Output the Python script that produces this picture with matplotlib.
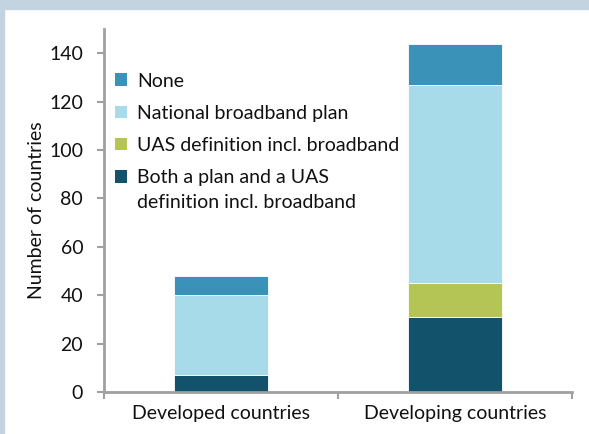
import matplotlib.pyplot as plt
import matplotlib.patches as mpatches

plt.rcParams['font.family'] = ['Lato', 'DejaVu Sans']

categories = ['Developed countries', 'Developing countries']
both = [7, 31]
uas_def = [0, 14]
national_plan = [33, 82]
none = [8, 17]

series = [
    ('Both a plan and a UAS', both, '#13526b'),
    ('UAS definition incl. broadband', uas_def, '#b5c555'),
    ('National broadband plan', national_plan, '#a8dbea'),
    ('None', none, '#3a92b8'),
]
both_second_line = 'definition incl. broadband'

fs = 14

fig = plt.figure(figsize=(5.89, 4.34), dpi=100)
# light blue-grey frame strips along top and left
fig.patches.append(mpatches.Rectangle((0, 1 - 9 / 434), 1, 9 / 434, transform=fig.transFigure,
                                      color='#c3d3e0', zorder=0))
fig.patches.append(mpatches.Rectangle((0, 0), 4 / 589, 1, transform=fig.transFigure,
                                      color='#c3d3e0', zorder=0))

ax = fig.add_axes([104 / 589, 1 - 392 / 434, (572 - 104) / 589, (392 - 29) / 434])

x = range(len(categories))
bottom = [0] * len(categories)
handles = []
for label, vals, color in series:
    b = ax.bar(x, vals, width=0.4, bottom=bottom, color=color, edgecolor='#ffffff',
               linewidth=0.6, label=label)
    handles.append(b)
    bottom = [a + v for a, v in zip(bottom, vals)]

ax.set_xlim(-0.5, 1.5)
ax.set_ylim(0, 150)
ax.set_yticks(range(0, 141, 20))
ax.set_xticks([-0.5, 0.5, 1.5])
ax.set_xticklabels([])
ax.set_xticks([0, 1], minor=True)
ax.set_xticklabels(categories, minor=True)
ax.tick_params(axis='x', which='minor', length=0, pad=9)
ax.tick_params(axis='x', which='major', length=5, width=1.5, color='#a0a0a0')
ax.tick_params(axis='y', length=5, width=1.5, color='#a0a0a0', pad=10)
ax.tick_params(which='both', labelsize=fs, labelcolor='#111111')

for s in ['top', 'right']:
    ax.spines[s].set_visible(False)
for s in ['left', 'bottom']:
    ax.spines[s].set_color('#a0a0a0')
    ax.spines[s].set_linewidth(2)

ax.set_ylabel('Number of countries', fontsize=fs, color='#111111', labelpad=3)

leg = ax.legend(handles=handles[::-1], loc='upper left', bbox_to_anchor=(0.0235, 0.880),
                frameon=False, fontsize=fs, handlelength=0.62, handleheight=0.62,
                handletextpad=0.52, labelspacing=0.78, borderaxespad=0, borderpad=0)
for t in leg.get_texts():
    t.set_color('#111111')
for h in leg.legend_handles:
    h.set_linewidth(0)

# second line of the last legend label, placed 25 px under its first line
fig.canvas.draw()
bb = leg.get_texts()[-1].get_window_extent()
x0, y0 = ax.transAxes.inverted().transform((bb.x0, (bb.y0 + bb.y1) / 2 - 25))
ax.text(x0, y0, both_second_line, transform=ax.transAxes, va='center', ha='left',
        fontsize=fs, color='#111111')

fig.savefig('out.png', dpi=100)
